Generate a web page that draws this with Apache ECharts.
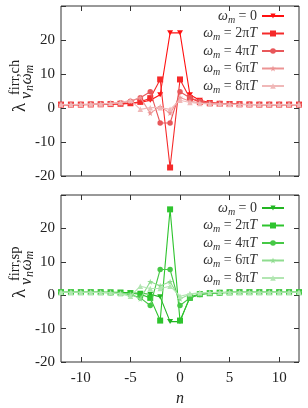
<!DOCTYPE html>
<html><head><meta charset="utf-8">
<script src="https://cdn.jsdelivr.net/npm/echarts@6/dist/echarts.min.js"></script>
<style>html,body{margin:0;padding:0;background:#fff}#c{width:308px;height:408px}</style>
</head><body><div id="c"></div>
<script>
const nValues = [-12,-11,-10,-9,-8,-7,-6,-5,-4,-3,-2,-1,0,1,2,3,4,5,6,7,8,9,10,11,12];
const xTicks = [-10,-5,0,5,10];
const legendLabels = ['0','2\u03c0T','4\u03c0T','6\u03c0T','8\u03c0T'];
// charge channel
const ch0 = [1.0,1.0,1.0,1.05,1.05,1.1,1.2,1.35,1.6,2.3,3.9,22.1,22.1,3.9,2.3,1.6,1.35,1.2,1.1,1.05,1.05,1.0,1.0,1.0,1.0];
const ch1 = [1.0,1.0,1.0,1.05,1.1,1.15,1.25,1.4,1.8,2.9,8.4,-17.5,8.4,2.9,1.8,1.4,1.25,1.15,1.1,1.05,1.0,1.0,1.0,1.0,1.0];
const ch2 = [1.0,1.0,1.05,1.1,1.2,1.3,1.5,2.0,3.0,4.8,-4.4,-4.4,4.8,3.0,2.0,1.5,1.3,1.2,1.1,1.05,1.0,1.0,1.0,1.0,1.0];
const ch3 = [1.0,1.0,1.05,1.1,1.2,1.3,1.5,2.0,3.1,-1.5,0.4,-1.5,3.1,2.0,1.5,1.3,1.2,1.1,1.05,1.0,1.0,1.0,1.0,1.0,1.0];
const ch4 = [1.0,1.05,1.1,1.15,1.2,1.35,1.6,2.3,-0.4,0.1,0.1,-0.4,2.3,1.6,1.35,1.2,1.15,1.1,1.05,1.0,1.0,1.0,1.0,1.0,1.0];
// spin channel
const sp0 = [0.9,0.9,0.9,0.9,0.9,0.9,0.85,0.75,0.6,0.3,-0.5,-7.9,-7.9,-0.5,0.3,0.6,0.75,0.85,0.9,0.9,0.9,0.9,0.9,0.9,0.9];
const sp1 = [0.9,0.9,0.9,0.9,0.9,0.85,0.75,0.6,0.3,-0.8,-7.6,25.7,-7.6,-0.8,0.3,0.6,0.75,0.85,0.9,0.9,0.9,0.9,0.9,0.9,0.9];
const sp2 = [0.9,0.9,0.9,0.9,0.85,0.75,0.6,0.2,-0.8,-3.1,7.7,7.7,-3.1,-0.8,0.2,0.6,0.75,0.85,0.9,0.9,0.9,0.9,0.9,0.9,0.9];
const sp3 = [0.9,0.9,0.9,0.9,0.85,0.75,0.6,0.3,-1.1,4.0,2.8,4.0,-1.1,0.3,0.6,0.75,0.85,0.9,0.9,0.9,0.9,0.9,0.9,0.9,0.9];
const sp4 = [0.9,0.9,0.9,0.85,0.8,0.7,0.4,-0.3,2.7,2.0,2.0,2.7,-0.3,0.4,0.7,0.8,0.85,0.9,0.9,0.9,0.9,0.9,0.9,0.9,0.9];

const chData = [ch0,ch1,ch2,ch3,ch4];
const spData = [sp0,sp1,sp2,sp3,sp4];
const redColors = ['#ff1010','#f52a2a','#e8575a','#ec9494','#f0b8b8'];
const greenColors = ['#22b522','#2ec42e','#46c846','#8fdc8f','#b2e6b2'];
const triDown = 'path://M0,0 L10,0 L5,8.5 Z';
const star = 'path://M5,0 L6.2,3.6 L10,3.6 L7,5.9 L8.1,9.5 L5,7.3 L1.9,9.5 L3,5.9 L0,3.6 L3.8,3.6 Z';
const symbols = [triDown,'rect','circle',star,'triangle'];
const symSizes = [[6,5],6,5.5,6,5.5];
const legendIH = [6.5,7.5,7,7.5,7];

const serif = "'Liberation Serif','DejaVu Serif',serif";
const frame = '#333';

function mkX(grid, pos, labels){
  return {type:'value', gridIndex:grid, position:pos, min:-12, max:12,
    axisLine:{show:false, onZero:false},
    axisTick:{show:true, inside:true, length:5, customValues:xTicks, lineStyle:{color:frame}},
    axisLabel:{show:labels, customValues:xTicks, margin:9, fontFamily:serif, fontSize:15, color:'#222'},
    splitLine:{show:false},
    name: labels ? 'n' : '', nameLocation:'middle', nameGap:29,
    nameTextStyle:{fontFamily:serif, fontSize:16, fontStyle:'italic', color:'#222'}};
}
function mkY(grid, pos, labels){
  return {type:'value', gridIndex:grid, position:pos, min:-20, max:30, interval:10,
    axisLine:{show:false, onZero:false},
    axisTick:{show:true, inside:true, length:5, lineStyle:{color:frame}},
    axisLabel:{show:labels, margin:6, fontFamily:serif, fontSize:15, color:'#222',
      formatter:v => v===30 ? '' : String(v)},
    splitLine:{show:false}};
}

const series = [];
const legends = [];
const rich = {
  w:{fontFamily:serif, fontSize:14, fontStyle:'italic', lineHeight:18, color:'#333'},
  s:{fontFamily:serif, fontSize:10, fontStyle:'italic', lineHeight:10, verticalAlign:'bottom', color:'#333'},
  t:{fontFamily:serif, fontSize:14, lineHeight:18, color:'#333'}
};
function labelFor(i){
  const L = legendLabels[i];
  if (L.endsWith('T')) return '{w|\u03c9}{s|m}{t| = '+L.slice(0,-1)+'}{w|T}';
  return '{w|\u03c9}{s|m}{t| = '+L+'}';
}
const rowsTop = [18,35.5,53,70.5,88];
const rowsBot = [210,227.5,245,262.5,280];

function addPanel(prefix, data, colors, g, xi, yi, rows){
  data.forEach((arr, i) => {
    const name = prefix + i;
    series.push({
      name, type:'line', xAxisIndex:xi, yAxisIndex:yi,
      data: nValues.map((n,k)=>[n, arr[k]]),
      symbol: symbols[i], symbolSize: symSizes[i], showSymbol:true, showAllSymbol:true,
      lineStyle:{color:colors[i], width:1.1},
      itemStyle:{color:colors[i]},
      emphasis:{disabled:true}, z: 2+i
    });
    legends.push({
      data:[name], orient:'vertical', align:'right', right:23, top: rows[i]-9,
      padding:0, itemWidth:22, itemHeight:legendIH[i], selectedMode:false,
      formatter: () => labelFor(i),
      textStyle:{rich}
    });
  });
}
addPanel('ch', chData, redColors, 0, 0, 0, rowsTop);
addPanel('sp', spData, greenColors, 1, 2, 2, rowsBot);

function yTitle(y0, sup){
  const els = [];
  const add = (text, cx, y, size, italic) => els.push({
    type:'text', x:cx, y:y, rotation:Math.PI/2, silent:true,
    style:{text, x:0, y:0, textAlign:'left', textVerticalAlign:'middle',
      font:(italic?'italic ':'')+size+'px '+serif, fill:'#222'}
  });
  add('\u03bb', 20, y0, 19, false);
  add(sup, 15, y0-17, 14.5, false);
  add('\u03bd', 26.5, y0-13, 16, true);
  add('n', 29.5, y0-21, 12, true);
  add('\u03c9', 26.5, y0-27.5, 16, true);
  add('m', 29.5, y0-38.5, 12, true);
  return els;
}

const option = {
  animation:false,
  backgroundColor:'#fff',
  grid:[
    {left:61, right:9, top:6, height:170, show:true, borderColor:frame, borderWidth:1, backgroundColor:'transparent'},
    {left:61, right:9, top:195, height:170, show:true, borderColor:frame, borderWidth:1, backgroundColor:'transparent'}
  ],
  xAxis:[mkX(0,'bottom',false), mkX(0,'top',false), mkX(1,'bottom',true), mkX(1,'top',false)],
  yAxis:[mkY(0,'left',true), mkY(0,'right',false), mkY(1,'left',true), mkY(1,'right',false)],
  legend: legends,
  series,
  graphic: [...yTitle(112,'firr,ch'), ...yTitle(298,'firr,sp')]
};
const chart = echarts.init(document.getElementById('c'), null, {renderer:'canvas'});
chart.setOption(option);
</script></body></html>
